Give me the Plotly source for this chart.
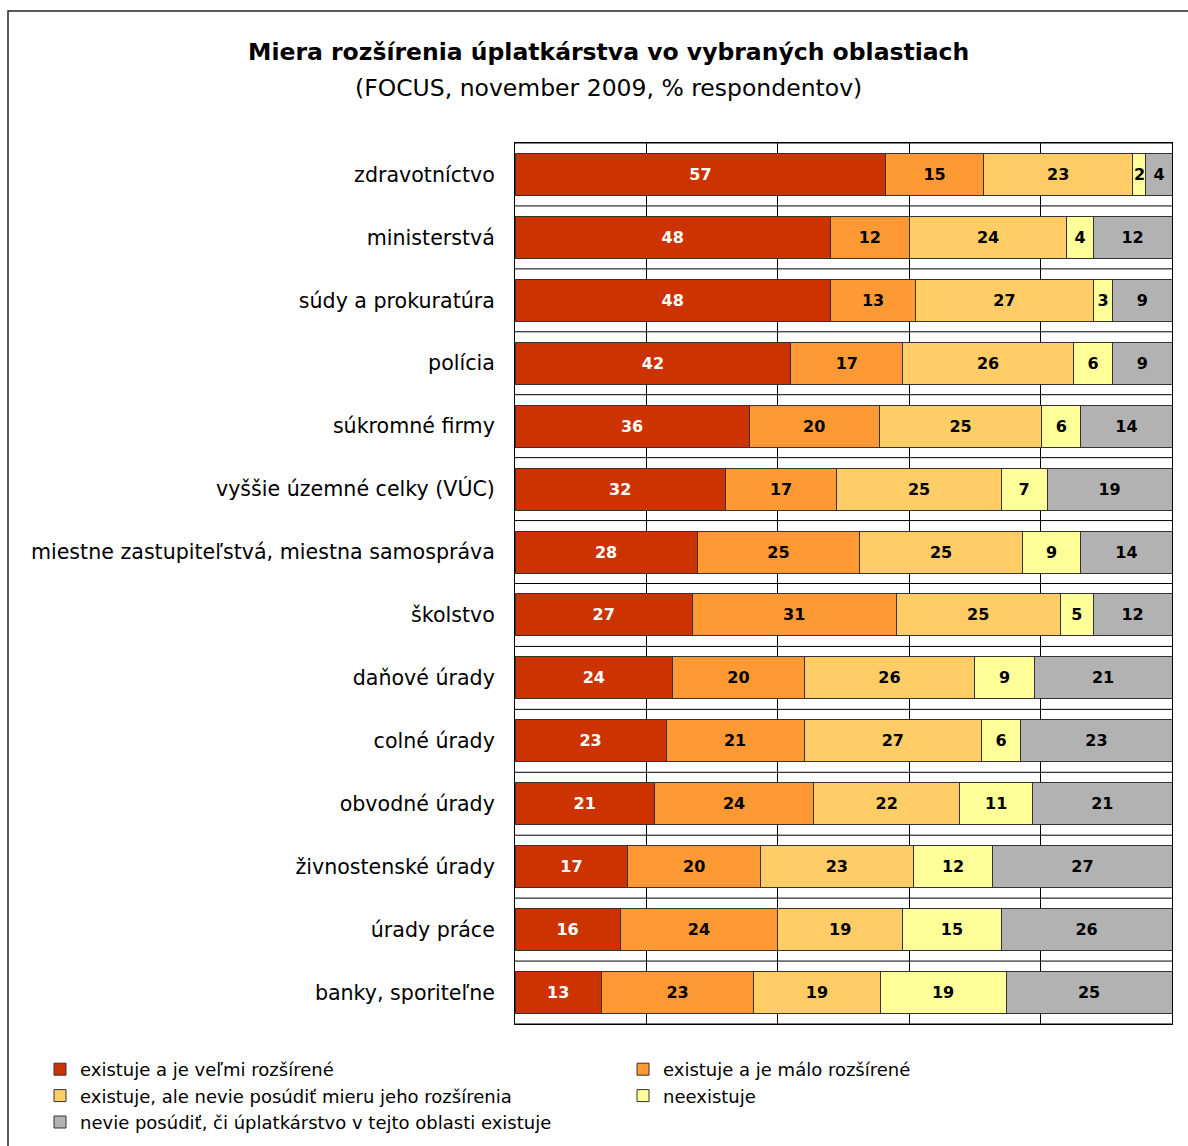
import plotly.graph_objects as go

categories = [
    "zdravotníctvo", "ministerstvá", "súdy a prokuratúra", "polícia",
    "súkromné firmy", "vyššie územné celky (VÚC)",
    "miestne zastupiteľstvá, miestna samospráva", "školstvo",
    "daňové úrady", "colné úrady", "obvodné úrady", "živnostenské úrady",
    "úrady práce", "banky, sporiteľne",
]
series_names = [
    "existuje a je veľmi rozšírené",
    "existuje a je málo rozšírené",
    "existuje, ale nevie posúdiť mieru jeho rozšírenia",
    "neexistuje",
    "nevie posúdiť, či úplatkárstvo v tejto oblasti existuje",
]
velmi = [57, 48, 48, 42, 36, 32, 28, 27, 24, 23, 21, 17, 16, 13]
malo = [15, 12, 13, 17, 20, 17, 25, 31, 20, 21, 24, 20, 24, 23]
nevie_mieru = [23, 24, 27, 26, 25, 25, 25, 25, 26, 27, 22, 23, 19, 19]
neexistuje = [2, 4, 3, 6, 6, 7, 9, 5, 9, 6, 11, 12, 15, 19]
nevie = [4, 12, 9, 9, 14, 19, 14, 12, 21, 23, 21, 27, 26, 25]
series_values = [velmi, malo, nevie_mieru, neexistuje, nevie]

colors = ["#CC3300", "#FF9933", "#FFCC66", "#FFFF99", "#B2B2B2"]
text_colors = ["white", "black", "black", "black", "black"]

W, H = 1188, 1146
ML, MR, MT, MB = 515, 16, 143, 122
PW, PH = W - ML - MR, H - MT - MB

def px_x(p):
    return (p - ML) / PW

def px_y(p):
    return 1 - (p - MT) / PH

FONT = "DejaVu Sans"
ypos = list(range(len(categories)))

fig = go.Figure()
for name, vals, col, tcol in zip(series_names, series_values, colors, text_colors):
    fig.add_trace(go.Bar(
        y=ypos, x=vals, name=name, orientation="h",
        marker=dict(color=col, line=dict(color="#333333", width=1)),
        text=[str(v) for v in vals], textposition="inside",
        insidetextanchor="middle", textangle=0,
        textfont=dict(family=FONT, size=16, color=tcol, weight="bold"),
        hoverinfo="skip",
    ))

shapes = []
# horizontal category boundary lines
for i in range(len(categories) + 1):
    shapes.append(dict(type="line", xref="x", yref="y", x0=0, x1=100,
                       y0=i - 0.5, y1=i - 0.5,
                       line=dict(color="black", width=1), layer="below"))
# outer frame
shapes.append(dict(type="rect", xref="paper", yref="paper",
                   x0=px_x(8), x1=px_x(W + 20), y0=px_y(11), y1=px_y(H + 20),
                   line=dict(color="#222222", width=1.5), layer="below"))

fig.update_layout(
    width=W, height=H,
    margin=dict(l=ML, r=MR, t=MT, b=MB, autoexpand=False),
    barmode="stack", barnorm="percent", bargap=0.333,
    plot_bgcolor="white", paper_bgcolor="white",
    font=dict(family=FONT, color="black"),
    uniformtext=dict(minsize=16, mode="show"),
    showlegend=True,
    legend=dict(
        orientation="h", x=px_x(40), xanchor="left", y=px_y(1051), yanchor="top",
        entrywidth=538, entrywidthmode="pixels", traceorder="normal",
        font=dict(family=FONT, size=18, color="black"),
        itemwidth=30, tracegroupgap=0, bgcolor="rgba(0,0,0,0)",
    ),
    shapes=shapes,
    annotations=[
        dict(text="<b>Miera rozšírenia úplatkárstva vo vybraných oblastiach</b>",
             xref="paper", yref="paper", x=px_x(608), y=px_y(52),
             xanchor="center", yanchor="middle", showarrow=False,
             font=dict(family=FONT, size=23.5, color="black")),
        dict(text="(FOCUS, november 2009, % respondentov)",
             xref="paper", yref="paper", x=px_x(608), y=px_y(88),
             xanchor="center", yanchor="middle", showarrow=False,
             font=dict(family=FONT, size=23.5, color="black")),
    ],
)
fig.update_xaxes(range=[0, 100], dtick=20, showticklabels=False,
                 showgrid=True, gridcolor="black", gridwidth=1,
                 showline=True, linecolor="black", linewidth=1, mirror=True,
                 zeroline=False, fixedrange=True)
fig.update_yaxes(tickvals=ypos, ticktext=categories, autorange=False,
                 range=[len(categories) - 0.5, -0.5],
                 showgrid=False, zeroline=False,
                 showline=True, linecolor="black", linewidth=1, mirror=True,
                 ticks="", ticklabelstandoff=15,
                 tickfont=dict(family=FONT, size=20.6, color="black"))

fig.write_html("out.html", config={"displayModeBar": False},
               post_script="document.body.style.margin='0';document.body.style.padding='0';")
